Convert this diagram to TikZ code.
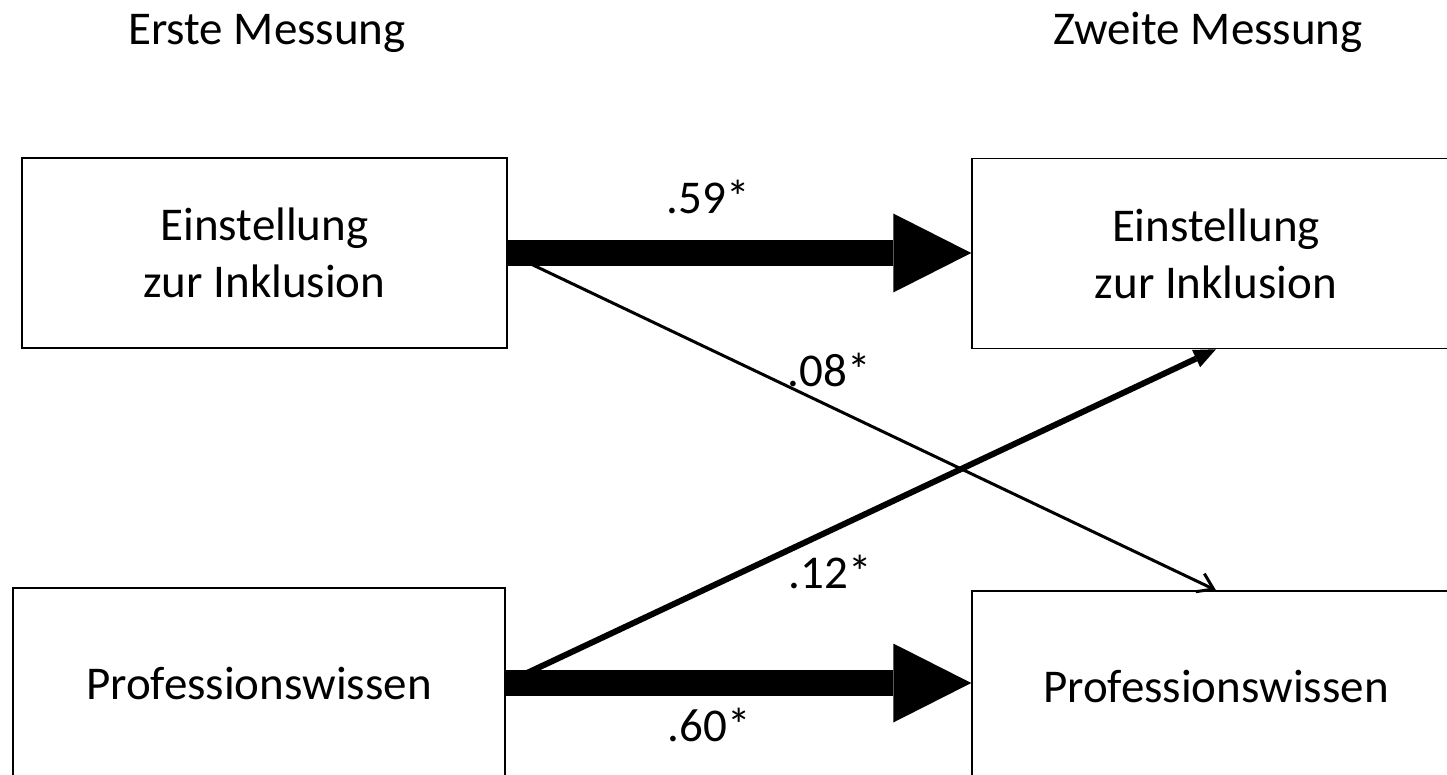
\documentclass[tikz,border=0pt]{standalone}
\usepackage{fontspec}
\setmainfont{Carlito}
\usetikzlibrary{arrows.meta}
\begin{document}
\begin{tikzpicture}[x=1pt,y=-1pt,
  box/.style={draw=black, line width=1.5pt, minimum height=190pt, inner sep=0pt,
    align=center, font=\fontsize{47}{57}\selectfont},
  lbl/.style={font=\fontsize{47}{57}\selectfont, anchor=base, inner sep=0pt},
  bigarrow/.style={line width=26pt, -{Triangle[length=78pt,width=79pt,line width=0pt]}},
  midarrow/.style={line width=6pt, -{Triangle[length=22pt,width=19pt,line width=0pt]}},
  thinarrow/.style={line width=3pt, -{Straight Barb[length=15pt,width=20pt]}}]
\useasboundingbox (0,0) rectangle (1447,775);
\clip (0,0) rectangle (1447,775);
% titles
\node[lbl, anchor=base west] (t1) at (128,45) {Erste Messung};
\node[lbl] (t2) at (1208,45) {Zweite Messung};
% boxes
\node[box, minimum width=485pt] (a1) at (264.5,253) {Einstellung\\zur Inklusion};
\node[box, minimum width=492pt] (a2) at (259,683) {Professionswissen};
\node[box, minimum width=488pt] (b1) at (1216,253.5) {Einstellung\\zur Inklusion};
\node[box, minimum width=488pt] (b2) at (1216,686) {Professionswissen};
% paths
\draw[thinarrow] (a1.east) -- (b2.north);
\draw[midarrow] (a2.east) -- (b1.south);
\draw[bigarrow] (a1.east) -- (a1.east -| b1.west);
\draw[bigarrow] (a2.east) -- (a2.east -| b2.west);
% labels
\node[lbl] (l59) at (708,214) {.59*};
\node[lbl] (l08) at (829,386) {.08*};
\node[lbl] (l12) at (830,588) {.12*};
\node[lbl] (l60) at (709,741) {.60*};
\end{tikzpicture}
\end{document}
